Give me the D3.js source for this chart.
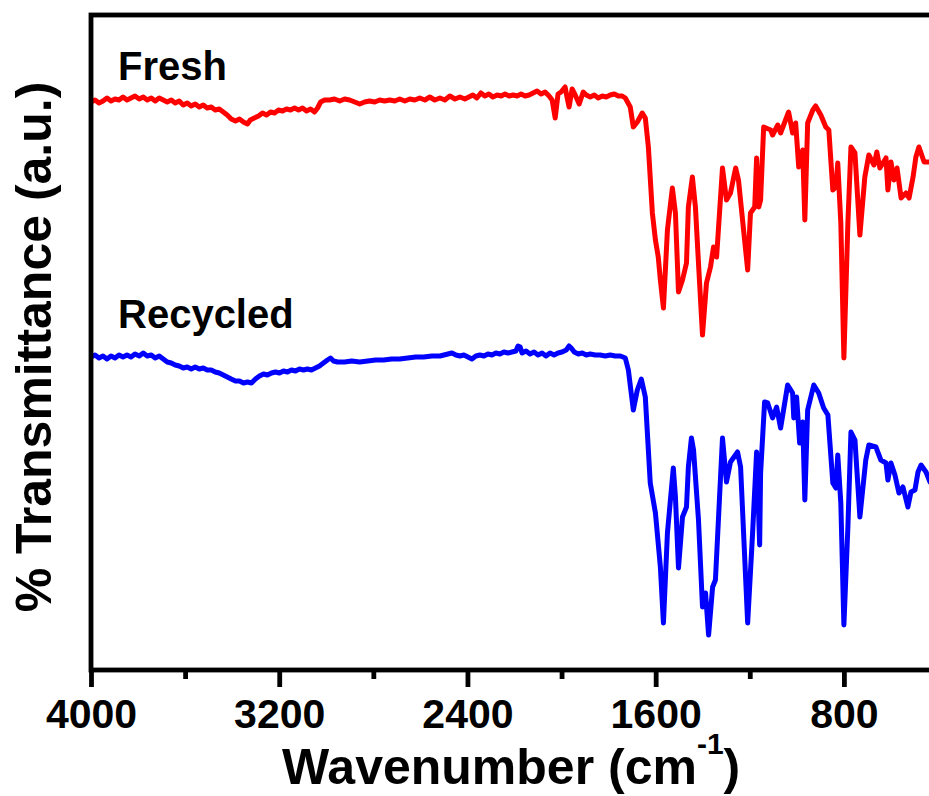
<!DOCTYPE html>
<html>
<head>
<meta charset="utf-8">
<script src="https://cdn.jsdelivr.net/npm/d3@7/dist/d3.min.js"></script>
<style>
  html, body { margin: 0; padding: 0; background: #fff; }
  svg { display: block; }
  text { font-family: "Liberation Sans", Arial, Helvetica, sans-serif; font-weight: bold; fill: #000; }
</style>
</head>
<body>
<svg id="chart" width="929" height="796"></svg>
<script>
// FTIR spectra: wavenumber (cm^-1) and transmittance (a.u., offset per trace)
const freshWavenumber = [4000,3983,3966,3949,3932,3915,3898,3881,3864,3847,3830,3813,3795,3778,3761,3744,3727,3710,3693,3676,3659,3642,3625,3608,3591,3574,3557,3540,3523,3506,3489,3472,3455,3438,3421,3404,3386,3369,3352,3335,3323,3306,3288,3271,3254,3237,3220,3203,3186,3169,3152,3135,3118,3101,3084,3067,3050,3037,3024,3007,2986,2965,2943,2922,2901,2879,2858,2837,2816,2794,2773,2752,2730,2709,2688,2666,2645,2624,2603,2581,2560,2539,2517,2496,2475,2453,2432,2411,2394,2377,2360,2343,2326,2309,2292,2274,2257,2240,2223,2206,2189,2172,2155,2138,2121,2104,2087,2070,2053,2040,2027,2015,2002,1985,1976,1968,1955,1942,1925,1908,1895,1878,1861,1844,1827,1810,1793,1776,1759,1742,1729,
  1708,1695,1678,1657,1644,1631,1614,1601,1589,1580,1567,1550,1529,1516,1503,1486,1469,1461,1444,1431,1418,1401,1384,1367,1354,1341,1316,1299,1282,1260,1248,1209,1197,1179,1171,1162,1154,1141,1111,1103,1081,1069,1035,1018,1005,992,975,966,954,932,920,898,877,864,847,834,826,813,800,783,770,753,732,711,694,672,660,647,621,613,600,587,574,557,536,523,506,494,481,459,434,408];
const freshT = [56.6,56.8,56.5,56.7,57.0,56.7,56.9,56.8,57.1,56.8,57.0,57.2,56.9,57.1,56.8,57.0,56.7,57.0,56.8,56.6,56.8,56.5,56.7,56.3,56.5,56.2,56.4,56.1,56.3,56.0,56.1,55.8,55.9,55.6,55.3,54.9,54.7,54.9,54.6,54.4,54.8,55.0,55.2,55.5,55.3,55.6,55.5,55.8,55.7,55.9,55.8,56.0,55.8,56.0,55.7,55.9,55.6,56.0,56.6,56.8,56.8,56.9,56.7,56.9,56.8,56.6,56.4,56.6,56.7,56.6,56.8,56.7,56.8,56.7,56.9,56.7,56.9,56.8,57.0,56.8,57.1,56.8,57.0,56.8,57.2,56.9,57.1,56.9,57.1,57.3,57.0,57.5,57.2,57.4,57.1,57.3,57.2,57.4,57.2,57.3,57.2,57.4,57.2,57.3,57.5,57.7,57.4,57.6,57.2,56.8,55.0,57.4,57.6,58.1,57.0,56.1,57.9,57.3,56.4,57.6,57.3,57.1,57.3,57.0,57.2,57.1,57.3,57.4,57.2,57.2,57.0,
  56.1,54.1,54.6,55.5,55.0,52.1,45.5,42.8,41.1,38.8,36.0,43.8,48.0,45.5,37.6,38.8,40.5,46.1,49.1,46.1,40.5,33.3,38.5,40.1,42.1,41.1,50.0,46.8,47.5,50.0,48.8,39.8,45.5,46.1,51.0,46.1,46.8,54.1,53.8,53.3,54.3,53.5,55.6,53.5,54.5,50.1,51.8,44.8,54.5,55.8,56.2,55.3,54.1,53.8,47.8,48.1,50.5,44.5,31.0,44.5,52.1,51.5,43.3,49.1,51.3,50.3,51.6,50.0,51.0,47.8,50.6,48.8,50.0,47.0,47.5,47.0,49.1,51.1,52.1,50.6,50.6,51.0];

const recycledWavenumber = [4000,3983,3966,3949,3932,3915,3898,3881,3864,3847,3830,3813,3795,3778,3761,3744,3727,3710,3693,3676,3659,3642,3625,3608,3591,3574,3557,3540,3523,3506,3489,3472,3455,3438,3421,3404,3386,3369,3352,3335,3318,3301,3284,3267,3250,3233,3216,3199,3182,3165,3148,3131,3114,3097,3080,3063,3046,3029,3012,2995,2982,2969,2952,2922,2892,2858,2824,2790,2756,2722,2688,2654,2620,2586,2551,2517,2483,2466,2449,2432,2415,2398,2381,2364,2347,2330,2313,2296,2279,2262,2245,2228,2211,2194,2185,2176,2168,2151,2134,2117,2100,2083,2066,2049,2032,2015,1998,1980,1968,1959,1946,1929,1912,1895,1878,1857,1836,1814,1793,1772,1750,1729,
  1716,1695,1678,1661,1644,1623,1601,1580,1567,1550,1525,1516,1503,1486,1469,1461,1448,1439,1418,1401,1388,1375,1358,1346,1316,1299,1282,1252,1239,1209,1188,1171,1158,1154,1137,1124,1103,1086,1069,1039,1018,1013,1001,988,975,966,954,928,907,886,868,847,834,826,813,800,783,770,753,732,707,694,664,643,621,613,600,583,566,549,528,515,498,485,472,451,434,408];
const recycledT = [31.1,31.3,31.0,31.2,30.9,31.2,31.0,31.3,31.1,31.3,31.1,31.4,31.2,31.5,31.2,31.3,31.0,31.2,30.9,30.6,30.5,30.3,30.2,30.0,30.1,29.9,30.1,29.9,30.0,29.8,29.8,29.6,29.5,29.3,29.1,28.9,28.7,28.7,28.5,28.6,28.5,28.9,29.2,29.4,29.3,29.5,29.6,29.5,29.7,29.6,29.8,29.7,29.9,29.8,29.9,29.8,30.0,30.2,30.5,30.8,31.0,30.7,30.6,30.6,30.7,30.6,30.7,30.8,30.8,30.9,30.9,31.0,31.1,31.1,31.2,31.2,31.4,31.5,31.3,31.2,31.3,31.1,30.9,31.2,31.3,31.2,31.4,31.3,31.5,31.4,31.6,31.5,31.6,31.7,32.2,32.1,31.5,31.7,31.4,31.6,31.3,31.5,31.2,31.5,31.3,31.5,31.6,31.8,32.2,32.0,31.6,31.4,31.5,31.3,31.4,31.3,31.3,31.2,31.3,31.2,31.2,31.0,
  29.8,25.8,27.8,28.9,27.1,18.5,15.5,10.1,4.5,13.5,20.0,17.1,10.0,15.1,16.1,20.1,23.0,21.8,14.8,6.1,7.5,3.3,8.1,8.8,23.0,18.6,20.6,21.6,20.1,4.5,13.5,21.6,12.3,19.5,26.6,26.5,25.0,26.1,24.0,28.3,27.5,25.0,27.1,22.5,24.6,16.8,25.8,28.3,27.5,26.0,25.3,18.5,18.0,21.3,16.5,4.3,14.1,23.6,22.8,15.1,20.8,22.3,22.1,20.8,20.5,18.8,20.5,19.3,17.5,18.1,16.1,17.6,17.8,19.6,20.3,19.6,18.6,19.0];

const majorTicks = [4000, 3200, 2400, 1600, 800];
const minorTicks = [3600, 2800, 2000, 1200];
const seriesNames = ["Fresh", "Recycled"];
const seriesColors = ["#ff0000", "#0000ff"];

const svg = d3.select("#chart");
const plotLeft = 91, plotRight = 938, plotTop = 15, plotBottom = 670;

const x = d3.scaleLinear().domain([4000, 400]).range([plotLeft, plotRight]);
const y = d3.scaleLinear().domain([-0.2, 65.3]).range([plotBottom, plotTop]);

const traces = [
  { name: seriesNames[0], color: seriesColors[0], data: freshWavenumber.map((w, i) => [w, freshT[i]]) },
  { name: seriesNames[1], color: seriesColors[1], data: recycledWavenumber.map((w, i) => [w, recycledT[i]]) }
];

const line = d3.line().x(d => x(d[0])).y(d => y(d[1]));

svg.append("clipPath").attr("id", "plotClip")
  .append("rect").attr("x", plotLeft).attr("y", plotTop)
  .attr("width", plotRight - plotLeft).attr("height", plotBottom - plotTop);

const plot = svg.append("g").attr("clip-path", "url(#plotClip)");
plot.selectAll("path.trace")
  .data(traces)
  .join("path")
  .attr("class", "trace")
  .attr("d", d => line(d.data))
  .attr("fill", "none")
  .attr("stroke", d => d.color)
  .attr("stroke-width", 5)
  .attr("stroke-linejoin", "round")
  .attr("stroke-linecap", "round");

// frame
svg.append("rect")
  .attr("x", plotLeft).attr("y", plotTop)
  .attr("width", plotRight - plotLeft).attr("height", plotBottom - plotTop)
  .attr("fill", "none").attr("stroke", "#000").attr("stroke-width", 4.8);

// bottom axis: major ticks with labels, minor ticks without
const xAxis = d3.axisBottom(x).tickValues(majorTicks).tickSize(17).tickSizeOuter(0).tickFormat(d3.format("d"));
const gx = svg.append("g").attr("transform", `translate(0,${plotBottom})`).call(xAxis);
gx.select(".domain").remove();
gx.selectAll(".tick line").attr("stroke", "#000").attr("stroke-width", 4.8);
gx.selectAll(".tick text")
  .attr("y", 58).attr("dy", 0)
  .style("font-size", "41px")
  .style("font-family", "'Liberation Sans', Arial, sans-serif")
  .style("font-weight", "bold")
  .attr("fill", "#000");

const xMinor = d3.axisBottom(x).tickValues(minorTicks).tickSize(9).tickSizeOuter(0).tickFormat("");
const gm = svg.append("g").attr("transform", `translate(0,${plotBottom})`).call(xMinor);
gm.select(".domain").remove();
gm.selectAll(".tick line").attr("stroke", "#000").attr("stroke-width", 4.8);

// axis titles
const xt = svg.append("text").attr("x", 282).attr("y", 784).style("font-size", "50px");
xt.append("tspan").text("Wavenumber (cm");
xt.append("tspan").attr("dy", -30).style("font-size", "30px").text("-1");
xt.append("tspan").attr("dy", 30).text(")");

svg.append("text")
  .attr("transform", "translate(51,347) rotate(-90)")
  .attr("text-anchor", "middle")
  .style("font-size", "50px")
  .text("% Transmittance (a.u.)");

// trace labels
svg.append("text").attr("x", 118).attr("y", 80).style("font-size", "40px").text(seriesNames[0]);
svg.append("text").attr("x", 118).attr("y", 328).style("font-size", "40px").text(seriesNames[1]);
</script>
</body>
</html>
